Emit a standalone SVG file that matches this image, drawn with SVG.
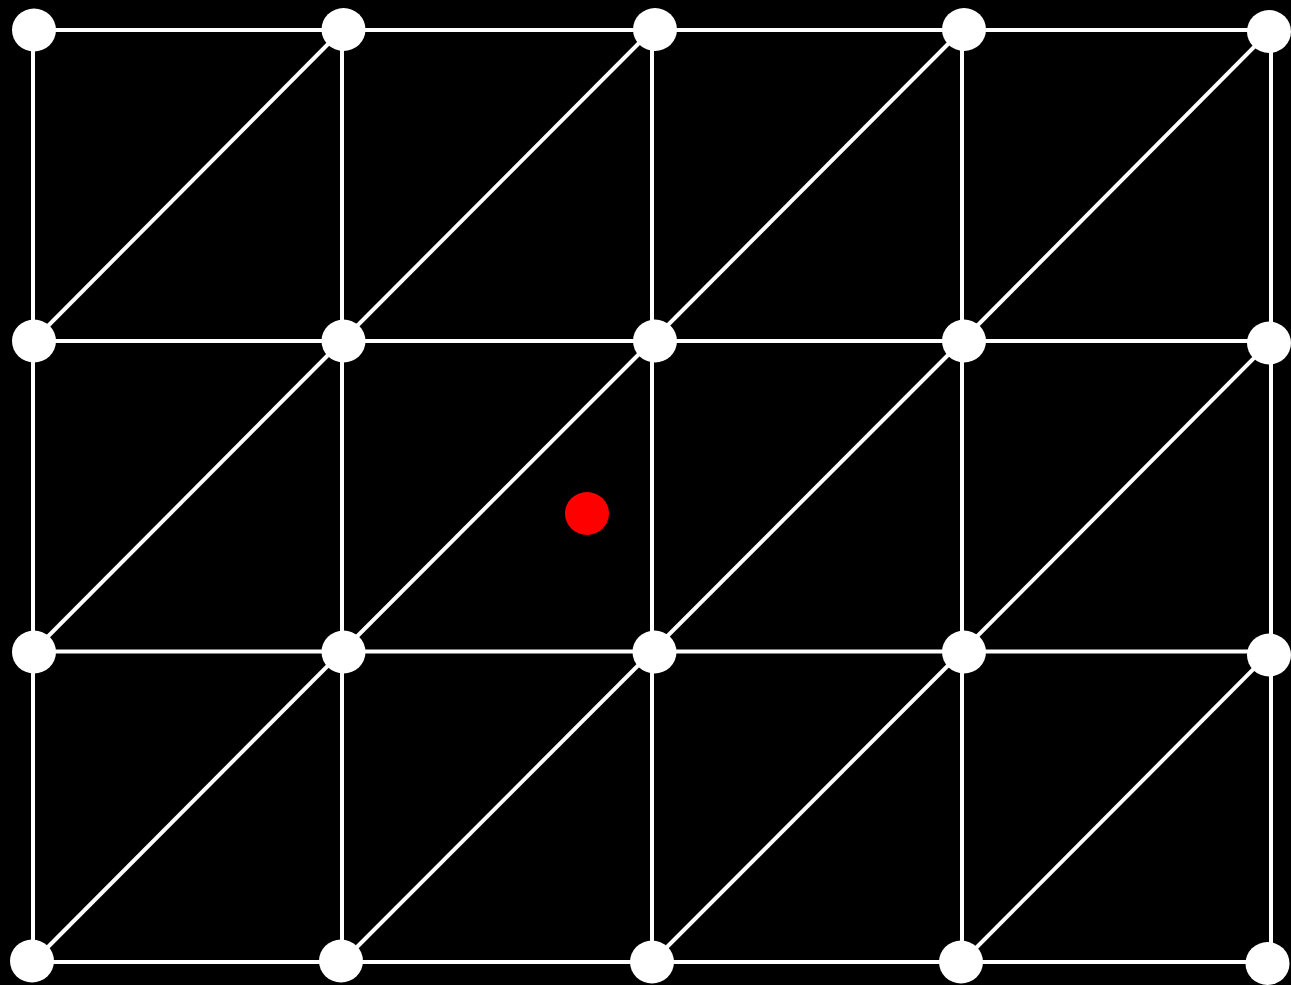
<svg xmlns="http://www.w3.org/2000/svg" width="1291" height="985" viewBox="0 0 1291 985">
<style>
.e{stroke:#fff;stroke-width:4;fill:none}
.n{fill:#fff}
.r{fill:#ff0000}
</style>
<rect x="0" y="0" width="1291" height="985" fill="#000"/>
<g id="connectors" class="e">
<line x1="33" y1="30" x2="1271" y2="30"/>
<line x1="33" y1="341" x2="1271" y2="341"/>
<line x1="33" y1="651.5" x2="1271" y2="651.5"/>
<line x1="33" y1="962" x2="1271" y2="962"/>
<line x1="33" y1="30" x2="33" y2="962"/>
<line x1="342" y1="30" x2="342" y2="962"/>
<line x1="652" y1="30" x2="652" y2="962"/>
<line x1="962" y1="30" x2="962" y2="962"/>
<line x1="1271" y1="30" x2="1271" y2="962"/>
<line x1="33" y1="341" x2="342" y2="30"/>
<line x1="342" y1="341" x2="652" y2="30"/>
<line x1="652" y1="341" x2="962" y2="30"/>
<line x1="962" y1="341" x2="1271" y2="30"/>
<line x1="33" y1="651.5" x2="342" y2="341"/>
<line x1="342" y1="651.5" x2="652" y2="341"/>
<line x1="652" y1="651.5" x2="962" y2="341"/>
<line x1="962" y1="651.5" x2="1271" y2="341"/>
<line x1="33" y1="962" x2="342" y2="651.5"/>
<line x1="342" y1="962" x2="652" y2="651.5"/>
<line x1="652" y1="962" x2="962" y2="651.5"/>
<line x1="962" y1="962" x2="1271" y2="651.5"/>
</g>
<g id="n00"><ellipse class="n" cx="34" cy="30" rx="22" ry="21.5"/></g>
<g id="n01"><ellipse class="n" cx="343.5" cy="29.5" rx="22" ry="21.5"/></g>
<g id="n02"><ellipse class="n" cx="655" cy="29.5" rx="22" ry="21.5"/></g>
<g id="n03"><ellipse class="n" cx="964" cy="29.5" rx="22" ry="21.5"/></g>
<g id="n04"><ellipse class="n" cx="1269" cy="31.5" rx="22" ry="21.5"/></g>
<g id="n10"><ellipse class="n" cx="34" cy="341" rx="22" ry="21.5"/></g>
<g id="n11"><ellipse class="n" cx="343.5" cy="341" rx="22" ry="21.5"/></g>
<g id="n12"><ellipse class="n" cx="655" cy="341" rx="22" ry="21.5"/></g>
<g id="n13"><ellipse class="n" cx="964" cy="341" rx="22" ry="21.5"/></g>
<g id="n14"><ellipse class="n" cx="1269" cy="343" rx="22" ry="21.5"/></g>
<g id="n20"><ellipse class="n" cx="34" cy="652" rx="22" ry="21.5"/></g>
<g id="n21"><ellipse class="n" cx="343.5" cy="652" rx="22" ry="21.5"/></g>
<g id="n22"><ellipse class="n" cx="654.5" cy="652" rx="22" ry="21.5"/></g>
<g id="n23"><ellipse class="n" cx="964" cy="652" rx="22" ry="21.5"/></g>
<g id="n24"><ellipse class="n" cx="1269" cy="655" rx="22" ry="21.5"/></g>
<g id="n30"><ellipse class="n" cx="32" cy="961" rx="22" ry="21.5"/></g>
<g id="n31"><ellipse class="n" cx="341" cy="961" rx="22" ry="21.5"/></g>
<g id="n32"><ellipse class="n" cx="652" cy="962" rx="22" ry="21.5"/></g>
<g id="n33"><ellipse class="n" cx="961" cy="962" rx="22" ry="21.5"/></g>
<g id="n34"><ellipse class="n" cx="1267.5" cy="963.5" rx="22" ry="21.5"/></g>
<g id="point"><ellipse class="r" cx="587" cy="513.5" rx="22" ry="21.5"/></g>
</svg>
